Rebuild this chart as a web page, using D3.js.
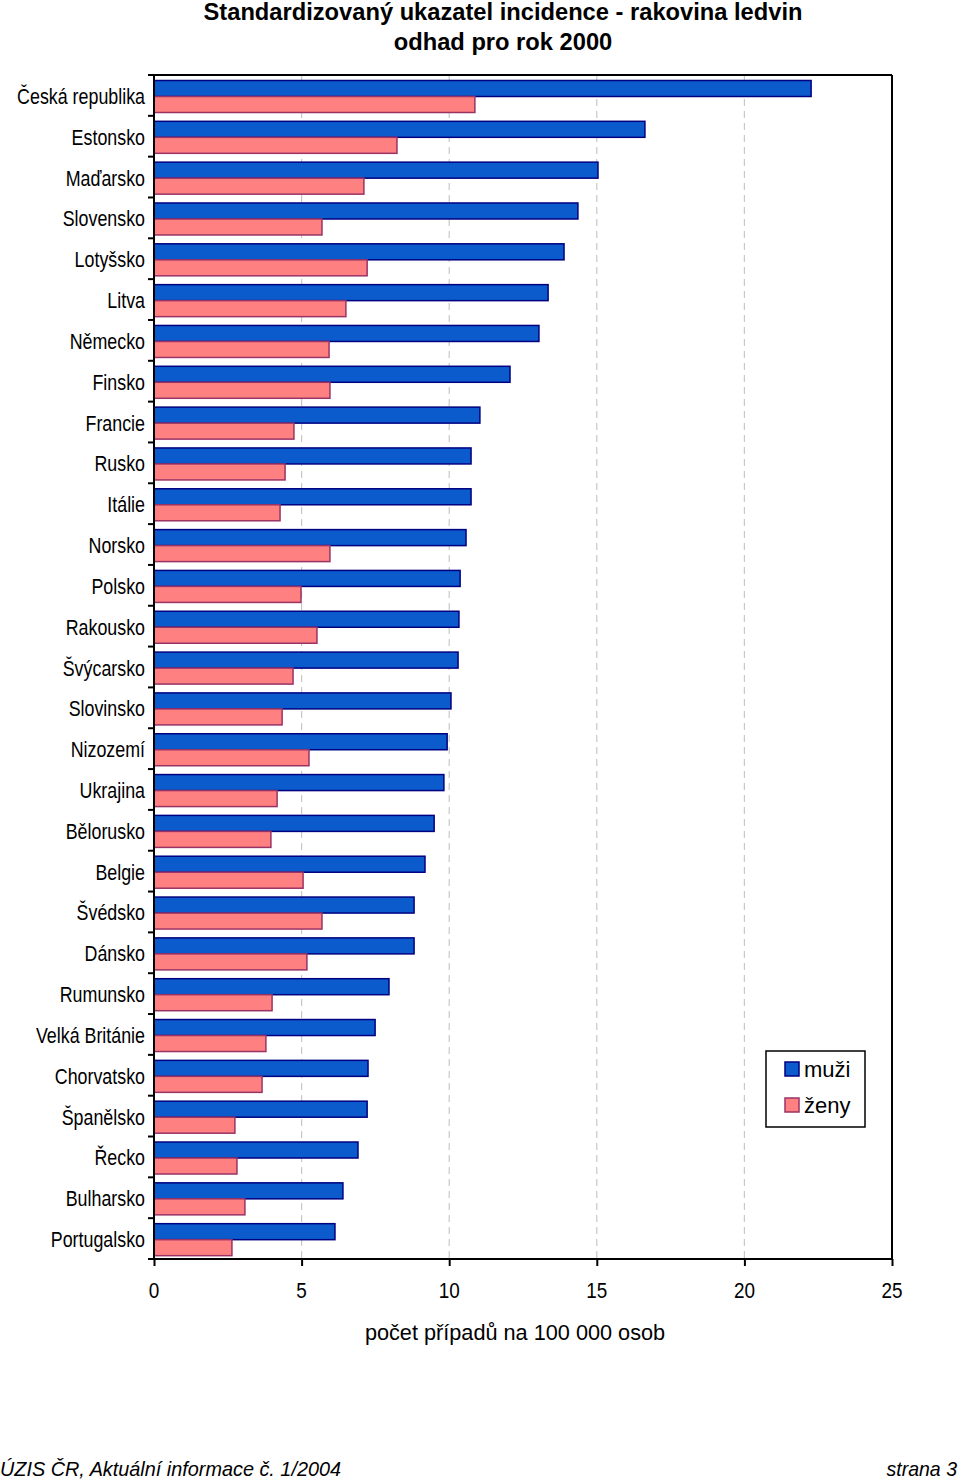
<!DOCTYPE html>
<html><head><meta charset="utf-8">
<script src="https://cdn.jsdelivr.net/npm/d3@7"></script>
<style>body{margin:0;background:#fff}svg{display:block}</style>
</head><body>
<svg id="c" width="960" height="1482"></svg>
<script>
const categories = ["Česká republika","Estonsko","Maďarsko","Slovensko","Lotyšsko","Litva","Německo","Finsko","Francie","Rusko","Itálie","Norsko","Polsko","Rakousko","Švýcarsko","Slovinsko","Nizozemí","Ukrajina","Bělorusko","Belgie","Švédsko","Dánsko","Rumunsko","Velká Británie","Chorvatsko","Španělsko","Řecko","Bulharsko","Portugalsko"];
const muzi = [22.26,16.63,15.04,14.36,13.89,13.35,13.04,12.06,11.04,10.74,10.74,10.57,10.37,10.33,10.30,10.06,9.93,9.82,9.49,9.18,8.81,8.81,7.96,7.49,7.25,7.22,6.91,6.40,6.13];
const zeny = [10.87,8.23,7.11,5.69,7.22,6.50,5.93,5.96,4.74,4.44,4.27,5.96,4.98,5.52,4.71,4.34,5.25,4.17,3.96,5.05,5.69,5.18,4.00,3.79,3.66,2.74,2.81,3.08,2.64];
const xTicks = [0,5,10,15,20,25];
const seriesNames = ["muži","ženy"];

const svg = d3.select("#c");
const L=154, R=892, T=75, B=1259;
const sans = "'Liberation Sans',Arial,sans-serif";
const x = d3.scaleLinear().domain([0,25]).range([L,R]);
const y = d3.scaleBand().domain(categories).range([T,B]);
const inner = d3.scaleBand().domain(seriesNames).range([5.5,37.5]);

function sText(g, px, py, sx, txt, size, anchor, opts={}) {
  const t = g.append("text").attr("transform",`translate(${px},${py}) scale(${sx},1)`)
    .attr("text-anchor",anchor).attr("font-family",sans).attr("font-size",size).attr("fill","#000").text(txt);
  if (opts.bold) t.attr("font-weight","bold");
  if (opts.italic) t.attr("font-style","italic");
  return t;
}

// grid
svg.append("g").selectAll("line").data(xTicks.filter(d=>d>0&&d<25)).join("line")
  .attr("x1",d=>x(d)).attr("x2",d=>x(d)).attr("y1",T).attr("y2",B)
  .attr("stroke","#c8c8c8").attr("stroke-width",1.2).attr("stroke-dasharray","7,5");

// bars
const colors = {"muži":{fill:"#0b5bcc",stroke:"#000080"},"ženy":{fill:"#ff8080",stroke:"#993366"}};
const data = [];
categories.forEach((c,i)=>{data.push({c,s:"muži",v:muzi[i]});data.push({c,s:"ženy",v:zeny[i]});});
svg.append("g").selectAll("rect").data(data).join("rect")
  .attr("x",x(0)).attr("y",d=>y(d.c)+inner(d.s)).attr("width",d=>x(d.v)-x(0)).attr("height",inner.bandwidth())
  .attr("fill",d=>colors[d.s].fill).attr("stroke",d=>colors[d.s].stroke).attr("stroke-width",1.5);

// frame top/right
svg.append("line").attr("x1",L-5).attr("x2",R).attr("y1",T).attr("y2",T).attr("stroke","#000").attr("stroke-width",2);
svg.append("line").attr("x1",R).attr("x2",R).attr("y1",T).attr("y2",B).attr("stroke","#000").attr("stroke-width",2);

// y axis
const yAxis = svg.append("g").attr("transform",`translate(${L},0)`);
yAxis.append("line").attr("x1",0).attr("x2",0).attr("y1",T).attr("y2",B).attr("stroke","#000").attr("stroke-width",2);
const bounds = categories.map(c=>y(c)).concat([B]);
yAxis.selectAll("line.t").data(bounds).join("line").attr("class","t")
  .attr("x1",-6).attr("x2",0).attr("y1",d=>d).attr("y2",d=>d).attr("stroke","#000").attr("stroke-width",2);
categories.forEach(c=>{
  sText(yAxis, -9, y(c)+y.bandwidth()/2+8.5, 0.83, c, 21.5, "end");
});

// x axis
const xa = svg.append("g").attr("transform",`translate(0,${B})`)
  .call(d3.axisBottom(x).tickValues(xTicks).tickSize(7).tickFormat(""));
xa.select(".domain").attr("stroke","#000").attr("stroke-width",2).attr("d",`M${L-5},0H${R}`);
xa.selectAll(".tick line").attr("stroke","#000").attr("stroke-width",2);
xTicks.forEach(v=>sText(svg, x(v), 1298, 0.86, d3.format("d")(v), 22, "middle"));

sText(svg, 515, 1340, 1, "počet případů na 100 000 osob", 21.7, "middle");

// title
sText(svg, 503, 20, 1, "Standardizovaný ukazatel incidence - rakovina ledvin", 23.7, "middle", {bold:true});
sText(svg, 503, 50, 1, "odhad pro rok 2000", 23.7, "middle", {bold:true});

// legend
const lg = svg.append("g");
lg.append("rect").attr("x",766).attr("y",1051).attr("width",99).attr("height",76).attr("fill","#fff").attr("stroke","#000").attr("stroke-width",1.5);
seriesNames.forEach((s,i)=>{
  lg.append("rect").attr("x",785).attr("y",1062+i*36).attr("width",14).attr("height",14)
    .attr("fill",colors[s].fill).attr("stroke",colors[s].stroke).attr("stroke-width",1.5);
  sText(lg, 804, 1077+i*36, 1, s, 22, "start");
});

// footer
sText(svg, 0, 1476, 0.945, "ÚZIS ČR, Aktuální informace č. 1/2004", 21, "start", {italic:true});
sText(svg, 957, 1476, 0.93, "strana 3", 21, "end", {italic:true});
</script>
</body></html>
